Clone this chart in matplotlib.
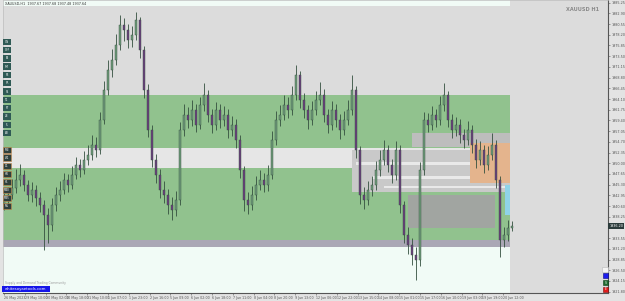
import matplotlib
matplotlib.use("Agg")
import matplotlib.pyplot as plt
from matplotlib.patches import Rectangle
import numpy as np

# XAUUSD H1 candles (compressed)
closes = [1941.9, 1943.0, 1944.6, 1946.3, 1947.4, 1945.2, 1943.0, 1944.1, 1942.4, 1940.8,
          1938.6, 1936.4, 1940.8, 1943.0, 1944.1, 1946.3, 1945.2, 1947.4, 1949.6, 1948.5,
          1950.7, 1951.8, 1954.0, 1952.9, 1959.5, 1966.1, 1970.5, 1972.7, 1976.0, 1980.4,
          1979.3, 1977.1, 1978.2, 1981.4, 1974.9, 1966.1, 1957.3, 1950.7, 1947.4, 1944.1,
          1943.0, 1940.8, 1939.7, 1941.9, 1957.3, 1960.6, 1959.5, 1961.7, 1958.4, 1962.8,
          1965.0, 1960.6, 1958.4, 1961.7, 1959.5, 1960.6, 1957.3, 1958.4, 1955.1, 1948.5,
          1941.9, 1940.8, 1943.0, 1945.2, 1946.3, 1945.2, 1947.4, 1955.1, 1959.5, 1960.6,
          1962.8, 1961.7, 1965.0, 1969.4, 1963.9, 1961.7, 1959.5, 1961.7, 1963.9, 1965.0,
          1960.6, 1958.4, 1961.7, 1959.5, 1957.3, 1959.5, 1961.7, 1966.1, 1952.9, 1943.0,
          1941.9, 1944.1, 1945.2, 1948.5, 1950.7, 1952.9, 1949.6, 1947.4, 1952.9, 1940.8,
          1934.2, 1932.0, 1929.8, 1928.7, 1948.5, 1959.5, 1958.4, 1960.6, 1959.5, 1962.8,
          1965.0, 1959.5, 1957.3, 1958.4, 1956.2, 1955.1, 1957.3, 1954.0, 1950.7, 1952.9,
          1949.6, 1951.8, 1954.0, 1946.3, 1933.1, 1934.2, 1935.8, 1936.2]
highs = [1943.5, 1944.8, 1946.5, 1948.8, 1949.9, 1948.6, 1946.4, 1945.9, 1945.3, 1943.6,
         1941.9, 1940.2, 1942.3, 1944.7, 1946.2, 1947.8, 1947.6, 1949.3, 1951.4, 1951.0,
         1952.6, 1953.9, 1956.1, 1955.7, 1961.2, 1968.0, 1972.6, 1975.1, 1978.3, 1982.5,
         1981.9, 1980.6, 1980.2, 1983.1, 1982.2, 1975.8, 1967.4, 1958.5, 1952.0, 1948.7,
         1946.0, 1944.3, 1942.5, 1944.0, 1959.0, 1962.9, 1962.4, 1963.8, 1962.9, 1964.6,
         1967.6, 1966.0, 1962.0, 1963.5, 1962.9, 1962.6, 1961.8, 1960.3, 1959.6, 1956.3,
         1949.4, 1943.6, 1944.9, 1947.1, 1948.4, 1947.9, 1949.5, 1957.0, 1961.4, 1962.7,
         1964.9, 1964.5, 1967.0, 1971.6, 1970.3, 1965.4, 1962.8, 1963.6, 1965.8, 1967.8,
         1966.2, 1962.0, 1963.7, 1962.9, 1960.8, 1961.4, 1963.8, 1969.4, 1967.0, 1953.8,
         1944.8, 1946.0, 1947.3, 1950.4, 1952.8, 1955.0, 1954.1, 1951.0, 1954.8, 1953.9,
         1941.7, 1936.0, 1933.6, 1931.5, 1950.2, 1961.3, 1961.0, 1962.5, 1962.0, 1964.7,
         1967.6, 1965.9, 1960.8, 1960.2, 1959.7, 1957.6, 1959.2, 1958.4, 1955.3, 1954.9,
         1954.0, 1953.7, 1956.6, 1955.0, 1947.2, 1936.0, 1937.6, 1937.4]
lows = [1939.8, 1940.9, 1942.1, 1943.5, 1945.0, 1943.9, 1941.7, 1941.5, 1940.6, 1939.2,
        1930.9, 1932.4, 1935.1, 1939.6, 1941.8, 1943.2, 1943.7, 1944.3, 1946.5, 1947.0,
        1947.6, 1949.5, 1950.8, 1951.3, 1952.0, 1958.6, 1965.0, 1968.9, 1971.5, 1974.8,
        1976.9, 1975.3, 1975.6, 1977.0, 1973.2, 1964.3, 1955.8, 1949.1, 1945.6, 1942.3,
        1941.2, 1938.9, 1937.6, 1938.4, 1940.8, 1955.9, 1957.7, 1958.2, 1956.9, 1957.5,
        1961.4, 1959.0, 1956.6, 1957.3, 1957.8, 1958.1, 1955.6, 1955.9, 1953.4, 1946.7,
        1939.5, 1938.8, 1939.7, 1942.0, 1944.1, 1943.6, 1944.0, 1946.5, 1954.0, 1958.1,
        1959.4, 1960.0, 1960.6, 1963.8, 1962.2, 1960.0, 1957.6, 1958.4, 1960.6, 1962.7,
        1959.0, 1956.7, 1957.2, 1957.9, 1955.4, 1956.2, 1958.3, 1960.5, 1951.2, 1941.1,
        1940.0, 1940.8, 1942.9, 1944.1, 1947.3, 1949.6, 1948.0, 1945.7, 1946.4, 1939.0,
        1932.4, 1930.1, 1927.6, 1924.3, 1927.5, 1947.4, 1956.8, 1957.2, 1957.9, 1958.4,
        1961.5, 1957.9, 1955.6, 1956.0, 1954.5, 1953.3, 1954.0, 1952.2, 1948.9, 1949.6,
        1947.8, 1948.5, 1950.7, 1944.6, 1929.4, 1931.6, 1933.0, 1935.1]
first_open = 1941.0

# supply / demand zones: (start bar, end bar, low price, high price, colour)
zones = [
    (-1, 126.5, 1984.6, 1990.0, "#f1fbf6"),
    (-1, 126.5, 1953.3, 1965.0, "#91c28e"),
    (-1, 126.5, 1948.9, 1953.3, "#e6e6e6"),
    (-1, 126.5, 1933.1, 1948.9, "#91c28e"),
    (-1, 126.5, 1931.6, 1933.1, "#aaa7b5"),
    (-1, 126.5, 1915.0, 1931.6, "#f1fbf6"),
    (87, 126.5, 1943.7, 1952.9, "#c9c9c9"),
    (102, 126.5, 1953.6, 1956.6, "#bdbdbd"),
    (101, 122.75, 1935.8, 1943.0, "#a1a5a1"),
    (88, 126.5, 1949.7, 1950.2, "#e9e9e9"),
    (92, 126.5, 1946.6, 1947.1, "#e9e9e9"),
    (95, 126.5, 1944.6, 1945.0, "#e9e9e9"),
    (116.5, 126.5, 1945.6, 1954.4, "#e4b48d"),
    (125.25, 126.5, 1938.6, 1945.2, "#8fd3e8"),
]

price_ticks = [1985.25 - 2.35 * k for k in range(28)]
time_labels = ["26 May 2023", "29 May 10:00", "30 May 02:00", "30 May 18:00", "31 May 10:00",
               "1 Jun 07:00", "1 Jun 23:00", "2 Jun 16:00", "5 Jun 09:00", "6 Jun 02:00",
               "6 Jun 18:00", "7 Jun 11:00", "8 Jun 04:00", "8 Jun 20:00", "9 Jun 13:00",
               "12 Jun 06:00", "12 Jun 22:00", "13 Jun 15:00", "14 Jun 08:00", "15 Jun 01:00",
               "15 Jun 17:00", "16 Jun 10:00", "19 Jun 03:00", "19 Jun 19:00", "20 Jun 12:00"]
tf_buttons_top = ["ON", "OFF", "FA", "FM", "FB", "FR", "SL", "TL", "FT", "ZE", "FL", "AB"]
tf_buttons_low = ["MN", "W1", "D1", "H4", "H1", "M30", "M15", "M5"]

W, H = 625, 301
fig = plt.figure(figsize=(W / 100, H / 100), dpi=100, facecolor="#e3e3e3")
ax = fig.add_axes([3 / W, 8 / H, 605 / W, 293 / H])
ax.set_facecolor("#dcdcdc")

for x0, x1, lo, hi, col in zones:
    ax.add_patch(Rectangle((x0, lo), x1 - x0, hi - lo, color=col, lw=0, zorder=1))

opens = [first_open] + closes[:-1]
x = np.arange(len(closes))
for i in x:
    o, c = opens[i], closes[i]
    up = c >= o
    ax.vlines(i, lows[i], highs[i], color="#34503f", lw=0.6, zorder=3)
    ax.add_patch(Rectangle((i - 0.3, min(o, c)), 0.6, max(abs(c - o), 0.15),
                           facecolor="#6f9a7a" if up else "#6b3f7d",
                           edgecolor="#34503f", lw=0.3, zorder=4))

ax.set_xlim(-0.25, 151)
ax.set_ylim(1921.5, 1985.84)

# the price box hides the scale label right under it, as the terminal does
last = closes[-1]
ylabels = ["" if abs(p - last) < 1.5 else f"{p:.2f}" for p in price_ticks]
ax.yaxis.tick_right()
ax.set_yticks(price_ticks, ylabels)
ax.tick_params(axis="y", labelsize=2.4, length=1.5, pad=0.8, colors="#555555", width=0.4)
ax.set_xticks(np.arange(len(time_labels)) * 5.2, time_labels)
ax.tick_params(axis="x", labelsize=2.3, length=1.5, pad=0.8, colors="#555555", width=0.4)
for lab in ax.get_xticklabels():
    lab.set_ha("left")
for s in ["top", "left"]:
    ax.spines[s].set_color("#bdbdbd")
    ax.spines[s].set_linewidth(0.5)
for s in ["right", "bottom"]:
    ax.spines[s].set_color("#555555")
    ax.spines[s].set_linewidth(0.8)

# current price label
ax.text(1.002, last, f"{last:.2f}", transform=ax.get_yaxis_transform(),
        fontsize=2.4, color="white", va="center", ha="left",
        bbox=dict(boxstyle="square,pad=0.35", fc="#2b3b3b", ec="none"), zorder=12)

ax.text(0.004, 0.993, "XAUUSD,H1  1937.67 1937.68 1937.48 1937.64", transform=ax.transAxes,
        fontsize=2.4, color="#333333", va="top")
ax.text(0.985, 0.975, "XAUUSD H1", transform=ax.transAxes, fontsize=3.6,
        color="#8a8a8a", ha="right", va="top", fontweight="bold", family="Liberation Sans Narrow")


def px_box(x0, y0, w, h, fc, ec="none", text=None, tc="white", fs=2.0):
    r = Rectangle((x0 / W, 1 - (y0 + h) / H), w / W, h / H, transform=fig.transFigure,
                  facecolor=fc, edgecolor=ec, lw=0.4, zorder=10)
    fig.add_artist(r)
    if text:
        fig.text((x0 + w / 2) / W, 1 - (y0 + h / 2) / H, text, fontsize=fs, color=tc,
                 ha="center", va="center", zorder=11)


for k, lab in enumerate(tf_buttons_top):
    px_box(3, 38.5 + k * 8.3, 8, 6.5, "#2f5a55", text=lab)
for k, lab in enumerate(tf_buttons_low):
    px_box(3, 146.5 + k * 8.0, 8, 6.5, "#2e3f3c", ec="#c98a4a", text=lab)

fig.text(5 / W, 1 - 283 / H, "Supply and Demand Trading Community", fontsize=2.2,
         color="#9a9a9a", va="center")
px_box(2, 286, 48, 6, "#1515e8", text="whitesoyaetools.com", fs=2.8)

px_box(602, 267, 6, 5, "#f4f4f4", ec="#bbbbbb")
px_box(603, 273, 5, 5, "#1c1cf0", ec="#0a0a80")
px_box(603, 280, 5, 5, "#1f6b2f", ec="#0c3a14", text="S", fs=2.2)
px_box(603, 287, 5, 5, "#e01b1b", ec="#7a0c0c", text="E", fs=2.2)

fig.savefig("out.png", dpi=100, facecolor=fig.get_facecolor())
